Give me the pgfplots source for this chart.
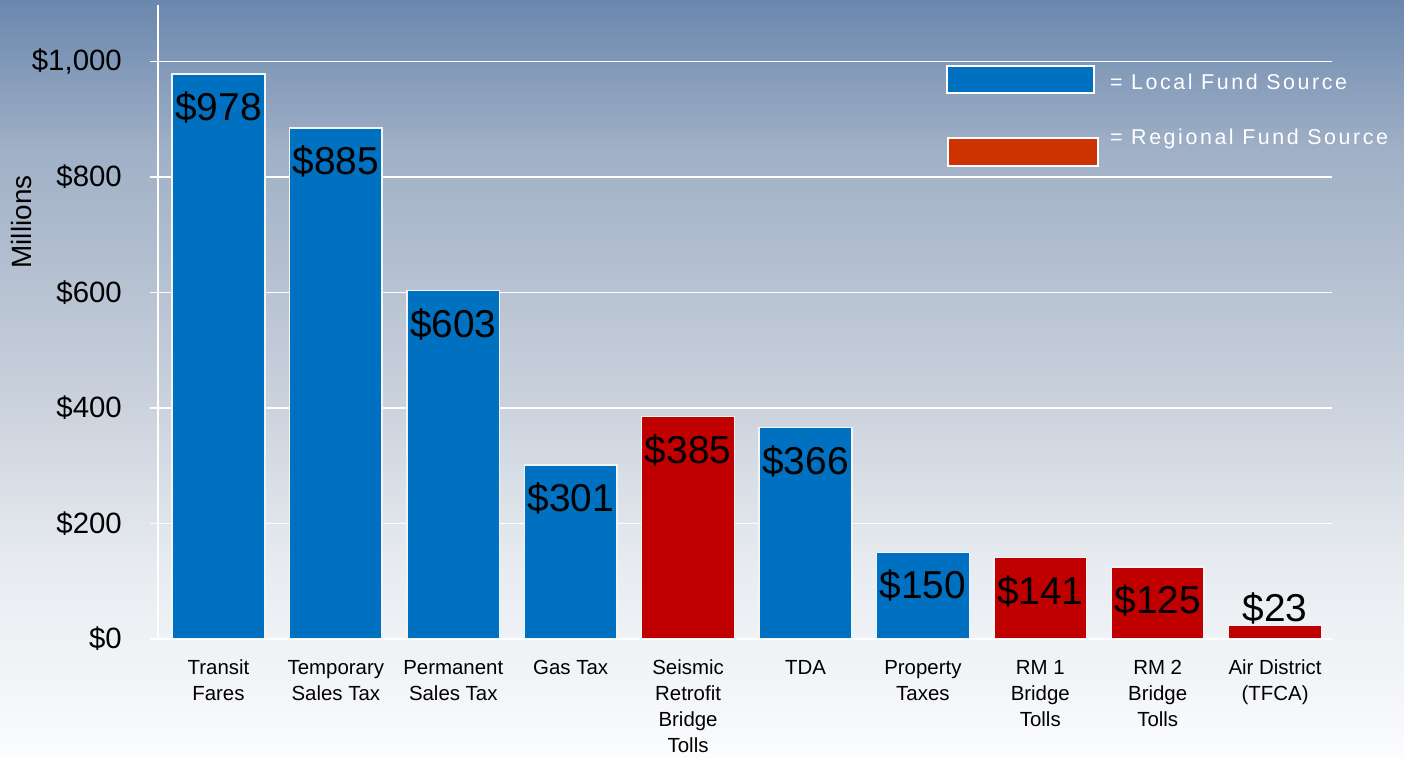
\documentclass[border=0pt]{standalone}
\usepackage{fontspec}
\setmainfont{Liberation Sans}
\usepackage{pgfplots}
\pgfplotsset{compat=1.18}

\definecolor{localblue}{HTML}{0070C0}
\definecolor{regionred}{HTML}{C00000}
\definecolor{legendred}{HTML}{CC3300}
\definecolor{barline}{HTML}{F2F4F6}
\definecolor{bgA}{HTML}{FBFCFE}
\definecolor{bgB}{HTML}{F4F6F9}
\definecolor{bgC}{HTML}{E8ECF0}
\definecolor{bgD}{HTML}{C6CEDA}
\definecolor{bgE}{HTML}{A0B0C6}
\definecolor{bgF}{HTML}{6A87AE}

\pgfdeclareverticalshading{bgshade}{1404bp}{color(0bp)=(bgA); color(60bp)=(bgB); color(190bp)=(bgC); color(380bp)=(bgD); color(608bp)=(bgE); color(758bp)=(bgF)}

\pgfplotsset{
    inlabel/.style={every node near coord/.append style={font=\fontsize{39}{39}\selectfont,
                    black, inner sep=0pt, anchor=north, yshift=-17bp}},
    toplabel/.style={every node near coord/.append style={font=\fontsize{39}{39}\selectfont,
                    black, inner sep=0pt, anchor=base, yshift=4bp}},
}

\begin{document}
\begin{tikzpicture}
\useasboundingbox (0bp,0bp) rectangle (1404bp,758bp);
\node[anchor=south west, inner sep=0pt] at (0bp,0bp) {\pgfuseshading{bgshade}};

\begin{axis}[
    at={(158bp,119bp)}, anchor=south west,
    scale only axis,
    width=1174bp, height=634bp,
    xmin=-0.515, xmax=9.485,
    ymin=0, ymax=1097.5,
    axis y line*=left,
    axis x line*=bottom,
    x axis line style={draw=none},
    y axis line style={white, line width=1.3bp, -},
    xtick={0,...,9},
    xticklabels={Transit\\Fares, Temporary\\Sales Tax, Permanent\\Sales Tax, Gas Tax,
                 Seismic\\Retrofit\\Bridge\\Tolls, TDA, Property\\Taxes,
                 RM 1\\Bridge\\Tolls, RM 2\\Bridge\\Tolls, Air District\\(TFCA)},
    xtick style={draw=none},
    xticklabel style={font=\fontsize{20.5}{26}\selectfont, align=center,
                      anchor=north, inner sep=0pt, yshift=-13bp},
    ytick={0,200,400,600,800,1000},
    yticklabels={\$0,\$200,\$400,\$600,\$800,{\$1,000}},
    ytick style={white, line width=1.3bp},
    tick align=outside,
    major tick length=8bp,
    yticklabel style={font=\fontsize{29.5}{30}\selectfont, anchor=east,
                      inner sep=0pt, xshift=-28bp},
    ymajorgrids,
    major grid style={white, line width=1.3bp},
    bar width=0.79,
    nodes near coords={\$\pgfmathprintnumber[assume math mode=true]{\pgfplotspointmeta}},
]

% local fund sources
\addplot[ybar, bar shift=0pt, fill=localblue, draw=barline, line width=1.5bp, inlabel]
    coordinates {(0,978) (1,885) (2,603) (3,301) (5,366) (6,150)};

% regional fund sources
\addplot[ybar, bar shift=0pt, fill=regionred, draw=barline, line width=1.5bp, inlabel]
    coordinates {(4,385) (7,141) (8,125)};

% small bar, label sits above it
\addplot[ybar, bar shift=0pt, fill=regionred, draw=barline, line width=1.5bp, toplabel]
    coordinates {(9,23)};

\end{axis}

\node[rotate=90, font=\fontsize{28}{28}\selectfont] at (22bp,536bp) {Millions};

% legend
\draw[white, line width=1.2bp, fill=localblue] (947bp,665bp) rectangle (1094bp,692bp);
\draw[white, line width=1.2bp, fill=legendred] (948bp,592bp) rectangle (1098bp,620bp);
\node[anchor=west, inner sep=0pt, white,
      font=\fontsize{21.5}{21.5}\selectfont\addfontfeatures{LetterSpace=12}]
      at (1110bp,676bp) {= Local Fund Source};
\node[anchor=west, inner sep=0pt, white,
      font=\fontsize{21.5}{21.5}\selectfont\addfontfeatures{LetterSpace=12}]
      at (1110bp,619bp) {= Regional Fund Source};
\end{tikzpicture}
\end{document}
